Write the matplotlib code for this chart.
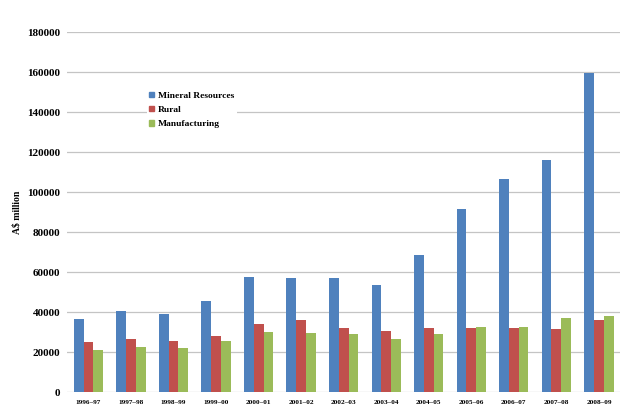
"""Australian exports by sector, 1996-97 to 2008-09."""

import matplotlib.pyplot as plt
import numpy as np
from matplotlib.patches import Patch

years = ["1996\u201397", "1997\u201398", "1998\u201399", "1999\u201300", "2000\u201301",
         "2001\u201302", "2002\u201303", "2003\u201304", "2004\u201305", "2005\u201306",
         "2006\u201307", "2007\u201308", "2008\u201309"]
mineral = [36300, 40600, 39000, 45300, 57600, 57100, 57100, 53600, 68600,
           91500, 106600, 116100, 159600]
rural = [24800, 26300, 25600, 28000, 34100, 36100, 32000, 30300, 31800,
         31800, 31800, 31300, 36000]
manufacturing = [21000, 22500, 21800, 25300, 30000, 29300, 29000, 26600, 29000,
                 32600, 32600, 36800, 38100]
y_ticks = [0, 20000, 40000, 60000, 80000, 100000, 120000, 140000, 160000, 180000]

series = [
    ("Mineral Resources", mineral, "#4F81BD"),
    ("Rural", rural, "#C0504D"),
    ("Manufacturing", manufacturing, "#9BBB59"),
]

plt.rcParams["font.family"] = ["Liberation Serif", "DejaVu Serif"]
plt.rcParams["font.weight"] = "bold"

fig = plt.figure(figsize=(6.4, 4.19), dpi=100)
ax = fig.add_axes([0.105, 0.0644, 0.864, 0.8592])

x = np.arange(len(years))
width = 0.23
for i, (name, values, color) in enumerate(series):
    ax.bar(x + (i - 1) * width, values, width=width, color=color, label=name, zorder=3)

ax.set_xlim(-0.5, len(years) - 0.5)
ax.set_ylim(0, 180000)
ax.set_yticks(y_ticks)
ax.set_yticklabels([str(v) for v in y_ticks], fontsize=8, fontweight="bold")
ax.set_xticks(x)
ax.set_xticklabels(years, fontsize=5.2, fontweight="bold")
ax.tick_params(length=0, pad=6)
ax.tick_params(axis="y", pad=5)
ax.grid(axis="y", color="#C4C4C4", linewidth=0.9, zorder=0)
for spine in ax.spines.values():
    spine.set_visible(False)

ax.set_ylabel("A$ million", fontsize=7, fontweight="bold")
ax.yaxis.set_label_coords(-0.082, 0.5)

handles = [Patch(color=c, label=n) for n, _, c in series]
leg = ax.legend(handles=handles, loc="upper left", bbox_to_anchor=(0.135, 0.855),
                frameon=True, fancybox=False, edgecolor="none", facecolor="white",
                framealpha=1, fontsize=6.8, handlelength=0.5, handleheight=0.5,
                handletextpad=0.4, labelspacing=0.65, borderpad=0.3)
leg.set_zorder(5)

fig.savefig("out.png", dpi=100)
